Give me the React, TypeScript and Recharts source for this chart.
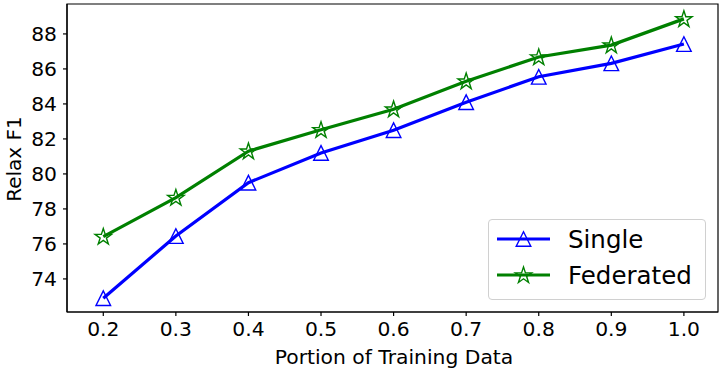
import React from "react";
import { LineChart, Line, XAxis, YAxis, ReferenceArea } from "recharts";

const portions = [0.2, 0.3, 0.4, 0.5, 0.6, 0.7, 0.8, 0.9, 1.0];
const singleValues = [72.9, 76.45, 79.5, 81.2, 82.5, 84.1, 85.55, 86.32, 87.42];
const federatedValues = [76.42, 78.65, 81.3, 82.52, 83.7, 85.3, 86.68, 87.36, 88.86];
const xTicks = [0.2, 0.3, 0.4, 0.5, 0.6, 0.7, 0.8, 0.9, 1.0];
const yTicks = [74, 76, 78, 80, 82, 84, 86, 88];
const seriesNames = ["Single", "Federated"];

const X_DOMAIN: [number, number] = [0.15, 1.047];
const Y_DOMAIN: [number, number] = [72.11, 89.71];

const data = portions.map((p, i) => ({
  x: p,
  single: singleValues[i],
  federated: federatedValues[i],
}));

const FONT = "'DejaVu Sans', sans-serif";
const BLUE = "#0000ff";
const GREEN = "#008000";

function trianglePoints(cx: number, cy: number, r: number) {
  return `${cx},${cy - r} ${cx - r},${cy + r} ${cx + r},${cy + r}`;
}

function starPoints(cx: number, cy: number, r: number) {
  const inner = r * 0.381966;
  const pts: string[] = [];
  for (let i = 0; i < 10; i++) {
    const rad = i % 2 === 0 ? r : inner;
    const a = (-90 + i * 36) * (Math.PI / 180);
    pts.push(`${cx + rad * Math.cos(a)},${cy + rad * Math.sin(a)}`);
  }
  return pts.join(" ");
}

const TriangleDot = (props: any) => {
  const { cx, cy, index } = props;
  if (cx == null || cy == null) return <g key={`t-${index}`} />;
  return (
    <polygon
      key={`t-${index}`}
      points={trianglePoints(cx, cy, 7.3)}
      fill="none"
      stroke={BLUE}
      strokeWidth={1.4}
    />
  );
};

const StarDot = (props: any) => {
  const { cx, cy, index } = props;
  if (cx == null || cy == null) return <g key={`s-${index}`} />;
  return (
    <polygon
      key={`s-${index}`}
      points={starPoints(cx, cy + 0.5, 8.6)}
      fill="none"
      stroke={GREEN}
      strokeWidth={1.4}
      strokeLinejoin="miter"
    />
  );
};

const YLabel = () => (
  <text
    x={0}
    y={0}
    transform="translate(21,159) rotate(-90)"
    textAnchor="middle"
    fontFamily={FONT}
    fontSize={20}
    fill="#000"
  >
    Relax F1
  </text>
);

const XLabel = () => (
  <text
    x={394}
    y={364}
    textAnchor="middle"
    fontFamily={FONT}
    fontSize={20.3}
    fill="#000"
  >
    Portion of Training Data
  </text>
);

const LegendBox = () => (
  <div
    style={{
      position: "absolute",
      left: 488,
      top: 219,
      width: 218,
      height: 81,
      boxSizing: "border-box",
      border: "1px solid #d0d0d0",
      borderRadius: 4,
      background: "rgba(255,255,255,0.8)",
    }}
  >
    <svg width={218} height={81} style={{ position: "absolute", left: -1, top: -1 }}>
      <line x1={9} x2={62} y1={20} y2={20} stroke={BLUE} strokeWidth={3.2} />
      <polygon points={trianglePoints(35.5, 20, 7.3)} fill="none" stroke={BLUE} strokeWidth={1.4} />
      <text x={80} y={20} dominantBaseline="central" fontFamily={FONT} fontSize={24.5} fill="#000">
        {seriesNames[0]}
      </text>
      <line x1={9} x2={62} y1={56} y2={56} stroke={GREEN} strokeWidth={3.2} />
      <polygon points={starPoints(35.5, 56.5, 8.6)} fill="none" stroke={GREEN} strokeWidth={1.4} />
      <text x={80} y={56} dominantBaseline="central" fontFamily={FONT} fontSize={24.5} fill="#000">
        {seriesNames[1]}
      </text>
    </svg>
  </div>
);

const tickStyle = { fontFamily: FONT, fontSize: 20.3, fill: "#000" };

export default function App() {
  return (
    <div style={{ position: "fixed", left: 0, top: 0, width: 721, height: 371, background: "#fff" }}>
      <LineChart
        width={721}
        height={371}
        data={data}
        margin={{ top: 4, right: 3, left: 0, bottom: 0 }}
      >
        <XAxis
          dataKey="x"
          type="number"
          domain={X_DOMAIN}
          ticks={xTicks}
          tickFormatter={(v: number) => v.toFixed(1)}
          height={59}
          tickSize={4}
          tickMargin={6}
          tick={tickStyle}
          stroke="#000"
          axisLine={{ stroke: "#000", strokeWidth: 1.2 }}
          tickLine={{ stroke: "#000", strokeWidth: 1.2 }}
          allowDataOverflow
        />
        <YAxis
          type="number"
          domain={Y_DOMAIN}
          ticks={yTicks}
          width={67}
          tickSize={4}
          tickMargin={6}
          tick={tickStyle}
          stroke="#000"
          axisLine={{ stroke: "#000", strokeWidth: 1.2 }}
          tickLine={{ stroke: "#000", strokeWidth: 1.2 }}
          allowDataOverflow
        />
        <ReferenceArea
          x1={X_DOMAIN[0]}
          x2={X_DOMAIN[1]}
          y1={Y_DOMAIN[0]}
          y2={Y_DOMAIN[1]}
          fill="none"
          fillOpacity={0}
          stroke="#000"
          strokeWidth={1.2}
          ifOverflow="visible"
        />
        <Line
          dataKey="single"
          name={seriesNames[0]}
          stroke={BLUE}
          strokeWidth={3.2}
          dot={TriangleDot}
          activeDot={false}
          isAnimationActive={false}
        />
        <Line
          dataKey="federated"
          name={seriesNames[1]}
          stroke={GREEN}
          strokeWidth={3.2}
          dot={StarDot}
          activeDot={false}
          isAnimationActive={false}
        />
        <YLabel />
        <XLabel />
      </LineChart>
      <LegendBox />
    </div>
  );
}
